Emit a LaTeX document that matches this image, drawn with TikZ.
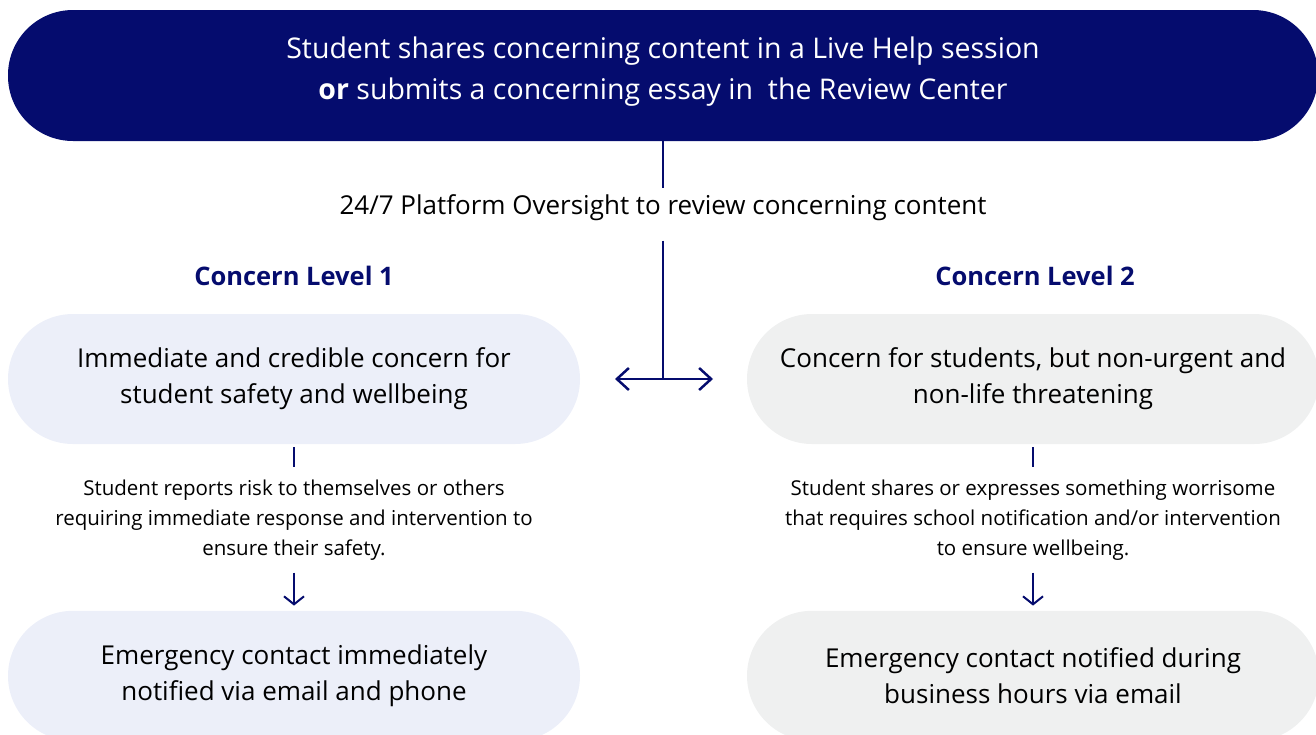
\documentclass[tikz,border=0pt]{standalone}
\usepackage{fontspec}
\setmainfont{Open Sans}
\usetikzlibrary{arrows.meta,positioning,calc}
\definecolor{navy}{RGB}{5,12,110}
\definecolor{lav}{RGB}{236,239,249}
\definecolor{fog}{RGB}{239,240,240}

\begin{document}
\begin{tikzpicture}[x=1pt,y=-1pt,
  pill/.style={rounded corners=65pt,minimum width=572pt,minimum height=130pt,align=center,font=\fontsize{26}{36}\selectfont},
  note/.style={align=center,inner sep=0pt,minimum height=105pt,font=\fontsize{20.5}{30}\selectfont},
  lvl/.style={font=\fontsize{25.5}{28}\selectfont\bfseries,text=navy},
  link/.style={draw=navy,line width=2.5pt},
  wide/.style={-{Straight Barb[length=12pt,width=22pt]}},
  down/.style={-{Straight Barb[length=8pt,width=20pt]},line width=2pt}]
\useasboundingbox (0,0) rectangle (1316,734);
\clip (0,0) rectangle (1316,734);
\node[fill=navy,text=white,rounded corners=65pt,minimum width=1310pt,minimum height=131pt,align=center,text depth=15pt,font=\fontsize{28.5}{41}\selectfont] (src) at (663,75.5) {Student shares concerning content in a Live Help session\\\textbf{or} submits a concerning essay in\ \ the Review Center};
\node[minimum height=52pt,inner sep=0pt,text height=15pt,text depth=15pt,font=\fontsize{26}{30}\selectfont,below=47pt of src] (review) {24/7 Platform Oversight to review concerning content};
\node[lvl] (head1) at (294,276) {Concern Level 1};
\node[lvl] (head2) at (1035,276) {Concern Level 2};
\node[pill,fill=lav] (safe) at (294,379) {Immediate and credible concern for\\student safety and wellbeing};
\node[pill,fill=fog] (worry) at (1033,379) {Concern for students, but non-urgent and\\non-life threatening};
\node[note,below=23pt of safe] (why1) {Student reports risk to themselves or others\\requiring immediate response and intervention to\\ensure their safety.};
\node[note,below=23pt of worry] (why2) {Student shares or expresses something worrisome\\that requires school notification and/or intervention\\to ensure wellbeing.};
\node[pill,fill=lav,below=38pt of why1] (urgent) {Emergency contact immediately\\notified via email and phone};
\node[pill,fill=fog,below=38pt of why2] (later) {Emergency contact notified during\\business hours via email};
\coordinate (split) at (review.south |- safe.east);
\coordinate[left=48pt of split] (toL);
\coordinate[right=50pt of split] (toR);

\draw[link] (src) -- (review);
\draw[link] (review) -- (split);
\draw[link,wide] (split) -- (toL);
\draw[link,wide] (split) -- (toR);
\draw[link,line width=2pt,shorten <=3pt] (safe) -- (why1);
\draw[link,line width=2pt,shorten <=3pt] (worry) -- (why2);
\draw[link,down,shorten >=5pt] (why1) -- (urgent);
\draw[link,down,shorten >=5pt] (why2) -- (later);
\end{tikzpicture}
\end{document}
